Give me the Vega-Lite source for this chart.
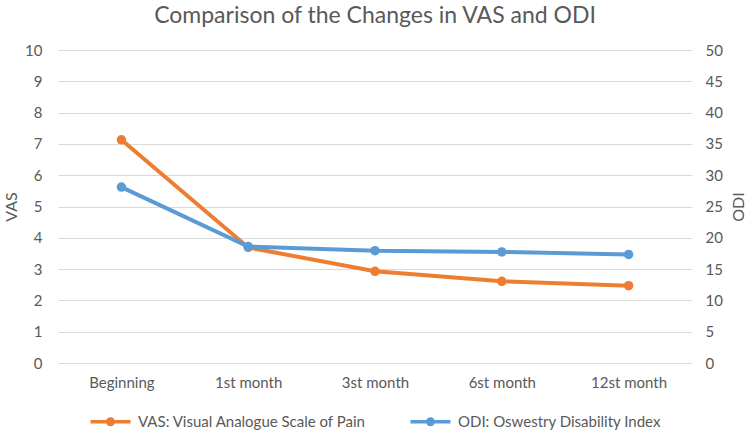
{
  "$schema": "https://vega.github.io/schema/vega-lite/v6.json",
  "width": 634,
  "height": 313,
  "autosize": {"type": "none"},
  "padding": {"left": 58, "top": 50, "right": 59, "bottom": 71},
  "background": "white",
  "config": {
    "font": "Lato",
    "view": {"stroke": null},
    "axis": {"labelColor": "#595959", "titleColor": "#595959", "labelFont": "Lato", "titleFont": "Lato", "titleFontWeight": "normal", "labelFontSize": 15, "titleFontSize": 16, "domain": false, "ticks": false, "tickSize": 0}
  },
  "title": {
    "text": "Comparison of the Changes in VAS and ODI",
    "font": "Lato",
    "fontSize": 23,
    "fontWeight": "normal",
    "color": "#595959",
    "anchor": "middle",
    "offset": 15
  },
  "data": {
    "values": [
      {"time": "Beginning", "series": "VAS", "value": 7.13},
      {"time": "1st month", "series": "VAS", "value": 3.69},
      {"time": "3st month", "series": "VAS", "value": 2.93},
      {"time": "6st month", "series": "VAS", "value": 2.61},
      {"time": "12st month", "series": "VAS", "value": 2.47},
      {"time": "Beginning", "series": "ODI", "value": 28.1},
      {"time": "1st month", "series": "ODI", "value": 18.6},
      {"time": "3st month", "series": "ODI", "value": 17.95},
      {"time": "6st month", "series": "ODI", "value": 17.75},
      {"time": "12st month", "series": "ODI", "value": 17.35}
    ]
  },
  "encoding": {
    "x": {
      "field": "time", "type": "ordinal",
      "sort": ["Beginning", "1st month", "3st month", "6st month", "12st month"],
      "scale": {"type": "point", "padding": 0.5},
      "axis": {"title": null, "labelAngle": 0, "labelPadding": 12, "grid": false}
    }
  },
  "layer": [
    {
      "transform": [{"filter": "datum.series === 'VAS'"}],
      "encoding": {
        "y": {
          "field": "value", "type": "quantitative",
          "scale": {"domain": [0, 10], "nice": false, "zero": true},
          "axis": {"title": "VAS", "orient": "left", "values": [0,1,2,3,4,5,6,7,8,9,10], "grid": true, "gridColor": "#d9d9d9", "gridWidth": 1, "labelPadding": 16, "titlePadding": 5}
        }
      },
      "layer": [
        {"mark": {"type": "line", "color": "#ED7D31", "strokeWidth": 4}},
        {
          "mark": {"type": "point", "filled": true, "opacity": 1, "size": 90, "shape": "circle"},
          "encoding": {
            "color": {"datum": "VAS: Visual Analogue Scale of Pain", "type": "nominal"}
          }
        }
      ]
    },
    {
      "transform": [{"filter": "datum.series === 'ODI'"}],
      "encoding": {
        "y": {
          "field": "value", "type": "quantitative",
          "scale": {"domain": [0, 50], "nice": false, "zero": true},
          "axis": {"title": "ODI", "orient": "right", "values": [0,5,10,15,20,25,30,35,40,45,50], "grid": false, "labelPadding": 13, "titlePadding": 8, "titleAngle": 270, "titleBaseline": "top"}
        }
      },
      "layer": [
        {"mark": {"type": "line", "color": "#5B9BD5", "strokeWidth": 4}},
        {
          "mark": {"type": "point", "filled": true, "opacity": 1, "size": 90, "shape": "circle"},
          "encoding": {
            "color": {
              "datum": "ODI: Oswestry Disability Index", "type": "nominal",
              "scale": {"domain": ["VAS: Visual Analogue Scale of Pain", "ODI: Oswestry Disability Index"], "range": ["#ED7D31", "#5B9BD5"]},
              "legend": {
                "title": null,
                "orient": "none",
                "direction": "horizontal",
                "legendX": 45,
                "legendY": 364,
                "symbolType": "M-4,-0.35H4V0.35H-4Z M-0.9,0A0.9,0.9 0 1,1 0.9,0A0.9,0.9 0 1,1 -0.9,0Z",
                "symbolSize": 100,
                "symbolStrokeWidth": 0,
                "symbolOpacity": 1,
                "labelOffset": 20,
                "columnPadding": 43,
                "labelFont": "Lato",
                "labelFontSize": 15,
                "labelColor": "#595959",
                "labelLimit": 400
              }
            }
          }
        }
      ]
    }
  ],
  "resolve": {"scale": {"y": "independent"}}
}
